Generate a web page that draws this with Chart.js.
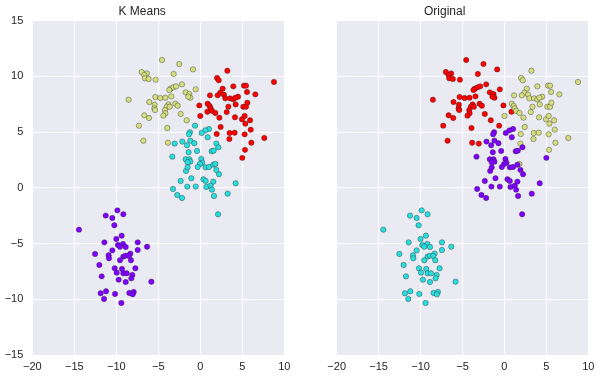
<!DOCTYPE html>
<html>
<head>
<meta charset="utf-8">
<script src="https://cdn.jsdelivr.net/npm/chart.js@4/dist/chart.umd.min.js"></script>
<style>
  html, body { margin: 0; padding: 0; background: #ffffff; }
  #wrap { position: relative; width: 602px; height: 378px; }
  #wrap canvas { position: absolute; top: 0; }
</style>
</head>
<body>
<div id="wrap">
  <canvas id="kmeansChart" width="301" height="378" style="left:0"></canvas>
  <canvas id="originalChart" width="301" height="378" style="left:301px"></canvas>
</div>
<script>
// points, grouped by their k-means cluster (purple, cyan, yellow, red)
const pointX = [
  -9.87, -11.26, -9.16, -10.47, -10.23, -14.44, -9.36, -10.0, -11.42, -7.45, -9.80, -9.20, -9.56, -8.88, -6.34, -10.47,
  -7.45, -12.53, -10.91, -8.33, -9.16, -8.88, -8.49, -10.87, -9.56, -8.25, -12.02, -10.19, -9.32, -7.73, -9.95, -9.16,
  -8.76, -8.09, -8.21, -11.74, -9.72, -8.88, -5.83, -11.86, -11.22, -10.15, -8.45, -7.93, -8.05, -11.46, -9.40,

  -0.63, 1.03, 0.60, 0.16, -1.23, -1.35, -3.05, -2.14, -1.19, -1.58, -0.71, 0.88, 1.91, 2.15, -3.33, -1.39, -0.39,
  1.35, 1.59, -1.74, -1.31, -1.19, -1.51, -1.70, -1.51, 0.12, 0.24, -0.04, -0.31, 0.64, 1.03, 1.55, 1.79, 2.22,
  1.91, -1.07, -2.34, -1.55, -0.55, 0.36, 0.64, 0.72, 1.23, 1.55, 1.39, -3.25, -2.74, -2.18, 3.26, 1.63, 4.21, 2.11,

  -4.56, -2.50, -0.87, -6.98, -6.35, -6.66, -6.58, -6.15, -5.31, -3.17, -2.18, -8.53, -3.53, -3.21, -2.89, -3.69,
  -0.55, -1.74, -1.30, -1.19, -1.43, -5.35, -4.76, -4.16, -3.45, -6.07, -5.43, -5.47, -5.39, -3.80, -4.00, -3.64,
  -2.97, -2.69, -4.20, -4.16, -4.40, -2.34, -6.66, -6.11, -1.62, -7.30, -3.93, -6.78, -3.85,

  3.22, 1.99, 2.19, 3.93, 5.20, 5.44, 8.77, 2.66, 2.38, 2.07, 5.56, 6.55, 2.82, 2.98, 3.54, 3.93, 4.49, 4.17,
  1.15, 4.21, 5.12, 5.44, 5.60, 3.34, 0.88, 1.11, 1.23, -0.12, 0.84, 1.39, 3.14, 0.0, 1.79, 2.27, 4.13, 4.96,
  5.28, 5.92, 5.36, 2.42, 6.0, 1.95, 3.49, 4.09, 5.28, 7.62, 3.46, 6.08, 5.32, 5.0
];
const pointY = [
  -2.02, -2.49, -2.37, -2.70, -3.36, -3.75, -4.29, -4.59, -4.89, -4.89, -5.13, -5.04, -5.28, -5.31, -5.28, -5.61,
  -5.58, -5.93, -6.05, -5.90, -6.17, -6.08, -6.11, -6.32, -6.50, -6.50, -6.92, -7.22, -7.28, -7.22, -7.61, -7.67,
  -7.67, -7.82, -8.12, -7.94, -8.24, -8.45, -8.42, -9.46, -9.28, -9.52, -9.43, -9.34, -9.55, -9.97, -10.33,

  5.58, 5.28, 5.16, 4.93, 4.99, 4.81, 3.97, 4.15, 4.24, 3.82, 4.0, 4.54, 3.97, 3.64, 2.80, 3.19, 3.31,
  3.28, 3.34, 2.56, 2.56, 2.35, 2.29, 1.52, 1.84, 2.59, 2.26, 2.14, 1.87, 1.84, 1.87, 2.08, 2.14, 1.22,
  1.61, 0.86, 0.62, 0.11, 0.11, 0.77, 0.62, 0.08, 0.20, 0.56, -0.16, -0.10, -0.64, -0.91, -0.52, -0.73, 0.41, -2.37,

  11.47, 11.11, 10.63, 10.39, 10.27, 10.12, 9.83, 9.77, 9.71, 10.22, 9.29, 7.91, 8.90, 9.02, 9.11, 8.78,
  8.84, 8.57, 8.42, 8.09, 8.18, 8.15, 8.06, 8.09, 8.21, 7.70, 7.46, 7.13, 6.98, 7.49, 7.28, 7.28,
  7.55, 7.37, 6.98, 6.69, 6.48, 6.63, 6.51, 6.27, 6.06, 5.58, 5.37, 4.23, 4.05,

  10.51, 9.86, 9.65, 9.11, 9.17, 9.17, 9.50, 8.90, 8.54, 8.30, 8.60, 8.39, 8.36, 8.03, 8.03, 7.94, 8.18, 8.09,
  8.30, 7.49, 7.28, 7.28, 7.64, 7.28, 7.55, 7.34, 7.13, 7.40, 6.83, 6.92, 6.80, 6.45, 6.72, 6.30, 6.33, 6.15,
  6.45, 6.06, 5.76, 5.46, 5.22, 4.83, 4.92, 4.95, 4.80, 4.47, 4.38, 4.05, 3.41, 2.69
];
// 0 purple, 1 cyan, 2 yellow, 3 red
const kmeansLabel = [
  0, 0, 0, 0, 0, 0, 0, 0, 0, 0, 0, 0, 0, 0, 0, 0, 0, 0, 0, 0, 0, 0, 0, 0, 0, 0, 0, 0, 0, 0, 0, 0,
  0, 0, 0, 0, 0, 0, 0, 0, 0, 0, 0, 0, 0, 0, 0,
  1, 1, 1, 1, 1, 1, 1, 1, 1, 1, 1, 1, 1, 1, 1, 1, 1, 1, 1, 1, 1, 1, 1, 1, 1, 1, 1, 1, 1, 1, 1, 1,
  1, 1, 1, 1, 1, 1, 1, 1, 1, 1, 1, 1, 1, 1, 1, 1, 1, 1, 1, 1,
  2, 2, 2, 2, 2, 2, 2, 2, 2, 2, 2, 2, 2, 2, 2, 2, 2, 2, 2, 2, 2, 2, 2, 2, 2, 2, 2, 2, 2, 2, 2, 2,
  2, 2, 2, 2, 2, 2, 2, 2, 2, 2, 2, 2, 2,
  3, 3, 3, 3, 3, 3, 3, 3, 3, 3, 3, 3, 3, 3, 3, 3, 3, 3, 3, 3, 3, 3, 3, 3, 3, 3, 3, 3, 3, 3, 3, 3,
  3, 3, 3, 3, 3, 3, 3, 3, 3, 3, 3, 3, 3, 3, 3, 3, 3, 3
];
const originalLabel = [
  1, 1, 1, 1, 1, 1, 1, 1, 1, 1, 1, 1, 1, 1, 1, 1, 1, 1, 1, 1, 1, 1, 1, 1, 1, 1, 1, 1, 1, 1, 1, 1,
  1, 1, 1, 1, 1, 1, 1, 1, 1, 1, 1, 1, 1, 1, 1,
  3, 0, 0, 0, 0, 0, 3, 0, 0, 0, 0, 0, 2, 0, 0, 0, 0, 0, 0, 0, 0, 0, 0, 0, 0, 0, 0, 0, 0, 0, 0, 0,
  2, 0, 0, 0, 0, 0, 0, 0, 0, 0, 0, 0, 0, 0, 0, 0, 0, 0, 0, 0,
  3, 3, 3, 3, 3, 3, 3, 3, 3, 3, 3, 3, 3, 3, 3, 3, 3, 3, 3, 3, 3, 3, 3, 3, 3, 3, 3, 3, 3, 3, 3, 3,
  3, 3, 3, 3, 3, 3, 3, 3, 3, 3, 3, 3, 3,
  2, 2, 2, 2, 2, 2, 2, 2, 2, 2, 2, 2, 2, 2, 2, 2, 2, 2, 2, 2, 2, 2, 2, 2, 2, 2, 2, 3, 3, 2, 2, 2,
  2, 2, 2, 2, 2, 2, 2, 2, 2, 2, 2, 2, 2, 2, 2, 2, 2, 0
];
const xTicks = [-20, -15, -10, -5, 0, 5, 10];
const yTicks = [-15, -10, -5, 0, 5, 10, 15];

const clusterColors = ['#8000ff', '#2adddd', '#d4dd80', '#ff0000'];
const fontFamily = "'Liberation Sans', Arial, sans-serif";
const textColor = '#262626';

function buildDatasets(labels) {
  return clusterColors.map((color, k) => ({
    data: pointX.map((x, i) => ({ x: x, y: pointY[i], k: labels[i] })).filter(p => p.k === k),
    backgroundColor: color,
    borderColor: 'rgba(30,30,30,0.6)',
    borderWidth: 0.6,
    pointRadius: 2.7,
    pointHoverRadius: 2.7
  }));
}

function tickText(v) {
  return v < 0 ? '\u2212' + Math.abs(v) : String(v);
}

function makeChart(canvasId, title, labels, showYLabels, yAxisWidth, rightPad) {
  const ctx = document.getElementById(canvasId).getContext('2d');
  return new Chart(ctx, {
    type: 'scatter',
    data: { datasets: buildDatasets(labels) },
    options: {
      responsive: false,
      animation: false,
      layout: { padding: { left: 0, right: rightPad, top: 0, bottom: 0 } },
      plugins: {
        legend: { display: false },
        tooltip: { enabled: false },
        title: {
          display: true,
          text: title,
          color: textColor,
          font: { family: fontFamily, size: 12, weight: 'normal' },
          padding: { top: 4, bottom: 2.3 }
        }
      },
      scales: {
        x: {
          type: 'linear',
          min: xTicks[0],
          max: xTicks[xTicks.length - 1],
          border: { display: false },
          grid: { color: '#ffffff', lineWidth: 1, drawTicks: false },
          afterBuildTicks: s => { s.ticks = xTicks.map(v => ({ value: v })); },
          afterFit: s => { s.height = 23; },
          ticks: {
            autoSkip: false,
            maxRotation: 0,
            padding: 5,
            color: textColor,
            font: { family: fontFamily, size: 11 },
            callback: tickText
          }
        },
        y: {
          type: 'linear',
          min: yTicks[0],
          max: yTicks[yTicks.length - 1],
          border: { display: false },
          grid: { color: '#ffffff', lineWidth: 1, drawTicks: false },
          afterBuildTicks: s => { s.ticks = yTicks.map(v => ({ value: v })); },
          afterFit: s => { s.width = yAxisWidth; },
          ticks: {
            display: showYLabels,
            padding: 9,
            color: textColor,
            font: { family: fontFamily, size: 11 },
            callback: tickText
          }
        }
      }
    },
    plugins: [{
      id: 'plotBackground',
      beforeDraw(chart) {
        const a = chart.chartArea;
        chart.ctx.save();
        chart.ctx.fillStyle = '#eaeaf2';
        chart.ctx.fillRect(a.left, a.top, a.right - a.left, a.bottom - a.top);
        chart.ctx.restore();
      }
    }]
  });
}

makeChart('kmeansChart', 'K Means', kmeansLabel, true, 32.3, 16.7);
makeChart('originalChart', 'Original', originalLabel, false, 35.7, 13.7);
</script>
</body>
</html>
